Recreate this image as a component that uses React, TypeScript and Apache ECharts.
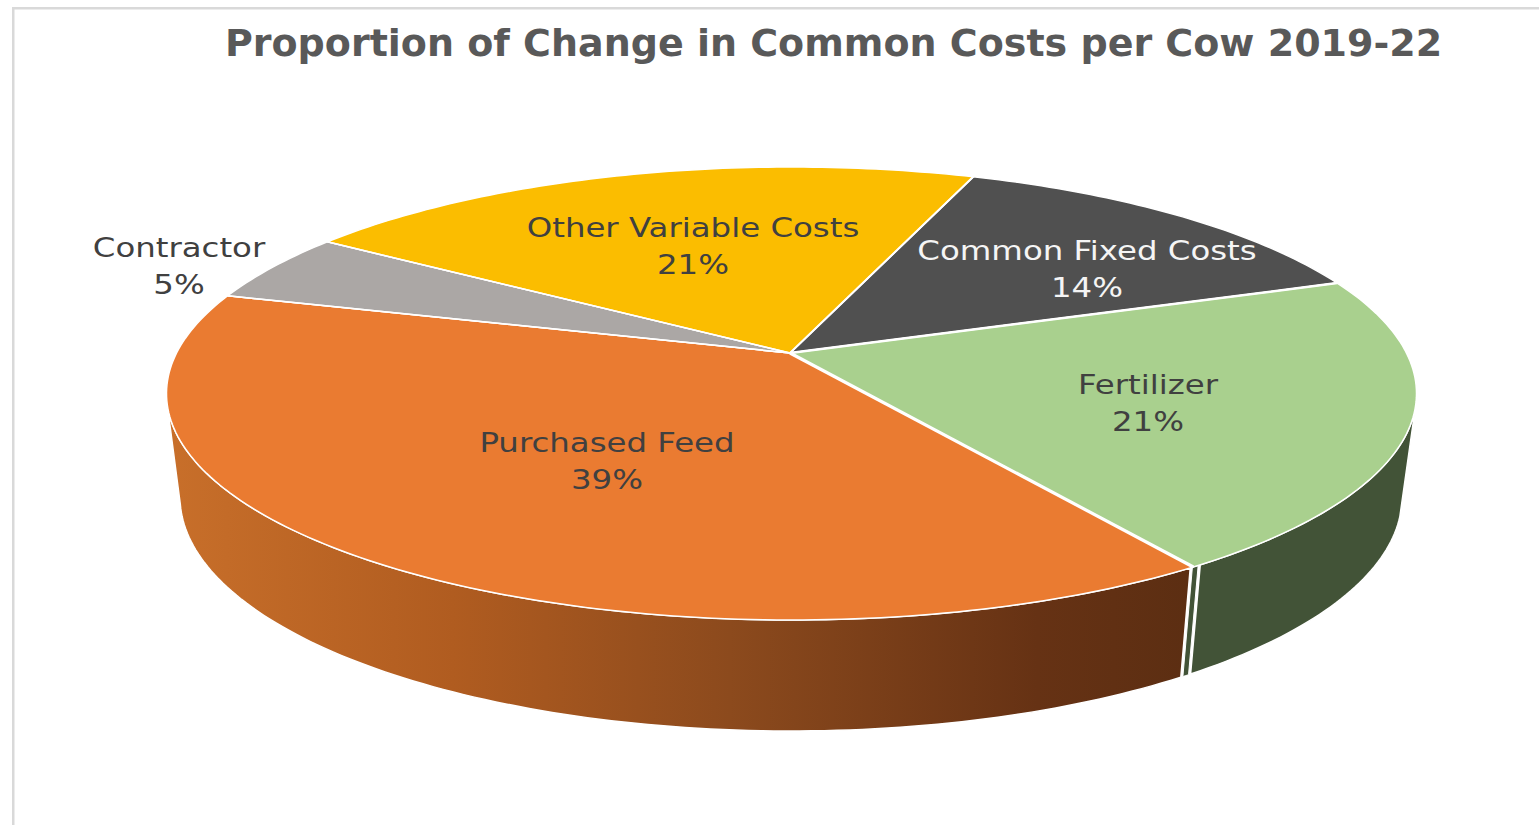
import React, { useEffect, useRef } from "react";
import * as echarts from "echarts";

const TITLE = "Proportion of Change in Common Costs per Cow 2019-22";
const categories = ["Common Fixed Costs", "Fertilizer", "Purchased Feed", "Contractor", "Other Variable Costs"];
const shares = [13.9, 21.1, 38.8, 5.0, 21.2];

const topColors = ["#505050", "#a9d08e", "#ea7b31", "#aba7a5", "#fbbd00"];
const labelColors = ["#f5f5f5", "#404040", "#404040", "#404040", "#404040"];
const labelAnchors = [[1087, 269], [1148, 403], [607, 461], [179, 266], [693, 246]];
const spokeWidths = [2, 2.5, 3.2, 1.5, 1.5];

const START_ANGLE = 20.2;
const TOP = { cx: 791.5, cy: 393.5, rx: 625, ry: 226.5 };
const BOTTOM = { cx: 791, cy: 497, rx: 611, ry: 234 };
const TILT = -0.179;
const APEX = [790, 353];
const FRONT = { topFrom: 103.1, botFrom: 105, topTo: 256.9, botTo: 258 };

const rimPoint = (e: typeof TOP, deg: number) => {
  const t = (deg * Math.PI) / 180;
  const px = Math.sin(t);
  const py = -Math.cos(t);
  const d = 1 + TILT * py;
  const x = (px * Math.sqrt(1 - TILT * TILT)) / d;
  const y = (py + TILT) / d;
  return [e.cx + x * e.rx, e.cy + y * e.ry];
};

const arc = (e: typeof TOP, from: number, to: number) => {
  const n = Math.max(2, Math.ceil(Math.abs(to - from)));
  const pts: number[][] = [];
  for (let i = 0; i <= n; i++) pts.push(rimPoint(e, from + ((to - from) * i) / n));
  return pts;
};

const sliceBounds = (i: number) => {
  const total = shares.reduce((a, b) => a + b, 0);
  const before = shares.slice(0, i).reduce((a, b) => a + b, 0);
  return [
    START_ANGLE + (before / total) * 360,
    START_ANGLE + ((before + shares[i]) / total) * 360,
  ];
};

const wallShape = (a: number, b: number, a2: number, b2: number, fill: any, lineWidth = 1.5) => ({
  type: "polygon",
  shape: { points: [...arc(TOP, a, b), ...arc(BOTTOM, b2, a2)] },
  style: { fill, stroke: "#ffffff", lineWidth },
});

const wallGradient = () =>
  new echarts.graphic.LinearGradient(0, 0, 1, 0, [
    { offset: 0, color: "#c86f2a" },
    { offset: 0.28, color: "#b05c20" },
    { offset: 0.55, color: "#8c4a1d" },
    { offset: 0.85, color: "#663214" },
    { offset: 1, color: "#5c2e12" },
  ]);

const renderWall = (p: any) => {
  const i = p.dataIndex;
  const [a, b] = sliceBounds(i);
  const children: any[] = [];
  if (categories[i] === "Fertilizer") {
    children.push(wallShape(FRONT.topFrom, b - 0.72, FRONT.botFrom, b - 0.72, "#425337"));
    children.push(wallShape(b - 0.5, b + 0.1, b - 0.5, b + 0.1, "#425337", 1));
  } else if (categories[i] === "Purchased Feed") {
    children.push(wallShape(a + 0.32, FRONT.topTo, a + 0.32, FRONT.botTo, wallGradient()));
  }
  return { type: "group", children };
};

const renderTop = (p: any) => {
  const i = p.dataIndex;
  const [a, b] = sliceBounds(i);
  return {
    type: "polygon",
    shape: { points: [APEX, ...arc(TOP, a, b)] },
    style: { fill: topColors[i], stroke: "#ffffff", lineWidth: 1.5, lineJoin: "round" },
  };
};

const renderSpoke = (p: any) => {
  const i = p.dataIndex;
  const [a] = sliceBounds(i);
  const end = rimPoint(TOP, a);
  return {
    type: "line",
    shape: { x1: APEX[0], y1: APEX[1], x2: end[0], y2: end[1] },
    style: { stroke: "#ffffff", lineWidth: spokeWidths[i] },
  };
};

const renderLabel = (p: any, api: any) => {
  const i = p.dataIndex;
  return {
    type: "text",
    x: labelAnchors[i][0],
    y: labelAnchors[i][1],
    scaleX: 1.2,
    style: {
      text: `${categories[i]}\n${Math.round(api.value(0))}%`,
      fill: labelColors[i],
      fontFamily: "DejaVu Sans",
      fontSize: 27,
      lineHeight: 37,
      align: "center",
      verticalAlign: "middle",
      textAlign: "center",
      textVerticalAlign: "middle",
    },
  };
};

export default function App() {
  const ref = useRef<HTMLDivElement>(null);
  useEffect(() => {
    document.body.style.margin = "0";
    const chart = echarts.init(ref.current!, undefined, { renderer: "svg" });
    const data = shares.map((v) => [v]);
    chart.setOption({
      animation: false,
      backgroundColor: "#ffffff",
      title: {
        text: TITLE,
        left: 828.5,
        top: 19,
        textAlign: "center",
        textStyle: { fontFamily: "DejaVu Sans", fontWeight: "bold", fontSize: 38, color: "#595959" },
      },
      graphic: [
        { type: "rect", shape: { x: 12, y: 7, width: 1527, height: 2.5 }, style: { fill: "#d9d9d9" } },
        { type: "rect", shape: { x: 12, y: 7, width: 2.5, height: 818 }, style: { fill: "#d9d9d9" } },
      ],
      series: [
        { type: "custom", coordinateSystem: "none", z: 1, silent: true, data, renderItem: renderWall },
        { type: "custom", coordinateSystem: "none", z: 2, silent: true, data, renderItem: renderTop },
        { type: "custom", coordinateSystem: "none", z: 3, silent: true, data, renderItem: renderSpoke },
        { type: "custom", coordinateSystem: "none", z: 4, silent: true, data, renderItem: renderLabel },
      ],
    });
    return () => chart.dispose();
  }, []);
  return <div ref={ref} style={{ position: "fixed", left: 0, top: 0, width: 1539, height: 825 }} />;
}
